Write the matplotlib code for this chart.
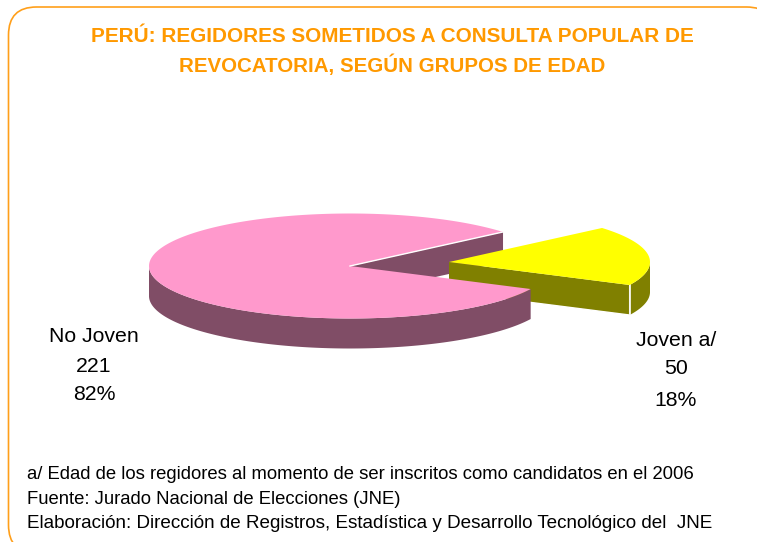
import numpy as np
import matplotlib
matplotlib.use('Agg')
import matplotlib.pyplot as plt
from matplotlib.patches import FancyBboxPatch

plt.rcParams['font.family'] = ['Liberation Sans', 'DejaVu Sans']

labels = ['Joven a/', 'No Joven']
values = [50, 221]
percents = ['18%', '82%']
title = ['PERÚ: REGIDORES SOMETIDOS A CONSULTA POPULAR DE',
         'REVOCATORIA, SEGÚN GRUPOS DE EDAD']
notes = ['a/ Edad de los regidores al momento de ser inscritos como candidatos en el 2006',
         'Fuente: Jurado Nacional de Elecciones (JNE)',
         'Elaboración: Dirección de Registros, Estadística y Desarrollo Tecnológico del  JNE']

W, H = 757, 542
fig = plt.figure(figsize=(W/100, H/100), dpi=100)
ax = fig.add_axes([0, 0, 1, 1])
ax.set_xlim(0, W)
ax.set_ylim(H, 0)
ax.axis('off')

#-- rounded frame, runs off the right and bottom of the picture
ax.add_patch(FancyBboxPatch((36.5, 35), 710, 490, boxstyle='round,pad=28,rounding_size=28',
                            fc='white', ec='#FF9F1A', lw=1.2, clip_on=True))

#-- pie geometry
rx, ry, depth = 201, 52.5, 30
cx, cy = 350, 266
ox, oy = 99, -4    # exploded slice offset
start = -26


def arc(x0, y0, a, b):
    t = np.radians(np.linspace(a, b, 200))
    return x0 + rx*np.cos(t), y0 - ry*np.sin(t)


sweep = 360*values[0]/sum(values)
a1, a2 = start, start + sweep

#-- back cut wall of the big slice
x, y = arc(cx, cy, a2, a2)
ax.fill([cx, x[0], x[0], cx], [cy, y[0], y[0]+depth, cy+depth], color='#804D66', lw=0, zorder=2)

#-- yellow slice
x0, y0 = cx+ox, cy+oy
x, y = arc(x0, y0, a1, a1)
ax.fill([x0, x[0], x[0], x0], [y0, y[0], y[0]+depth, y0+depth], color='#808000', lw=0, zorder=3)
ax.plot([x0, x[0], x[0]], [y0+depth, y[0]+depth, y[0]], color='white', lw=1, zorder=3)
x, y = arc(x0, y0, a1, 0)
ax.fill(np.r_[x, x[::-1]], np.r_[y, y[::-1]+depth], color='#808000', lw=0, zorder=3)
ax.plot([x[0], x[0]], [y[0], y[0]+depth], color='white', lw=1.2, zorder=3)
x, y = arc(x0, y0, a1, a2)
ax.fill(np.r_[x0, x], np.r_[y0, y], color='#FFFF00', lw=0, zorder=4)

#-- pink slice
x, y = arc(cx, cy, 180, 360+a1)
ax.fill(np.r_[x, x[::-1]], np.r_[y, y[::-1]+depth], color='#804D66', lw=0, zorder=5)
x, y = arc(cx, cy, a2, 360+a1)
ax.fill(np.r_[cx, x], np.r_[cy, y], color='#FF99CC', lw=0, zorder=6)
ax.plot([cx, x[0]], [cy, y[0]], color='white', lw=1, zorder=6)

#-- labels
for yy, s in zip([341.5, 371.5, 400.5], [labels[1], str(values[1]), percents[1]]):
    ax.text(94, yy, s, ha='center', va='baseline', fontsize=15.3, color='black')
for yy, s in zip([345.5, 374.5, 405.5], [labels[0], str(values[0]), percents[0]]):
    ax.text(676, yy, s, ha='center', va='baseline', fontsize=15.3, color='black')

#-- title and notes
ax.text(392.5, 36, title[0], ha='center', va='center', fontsize=14.95, fontweight='bold', color='#FF9900')
ax.text(392.5, 65, title[1], ha='center', va='center', fontsize=14.8, fontweight='bold', color='#FF9900')
for yy, n, fs in zip([479, 504, 528], notes, [13.35, 13.35, 13.55]):
    ax.text(27, yy, n, ha='left', va='baseline', fontsize=fs, color='black')

fig.savefig('out.png', dpi=100)
